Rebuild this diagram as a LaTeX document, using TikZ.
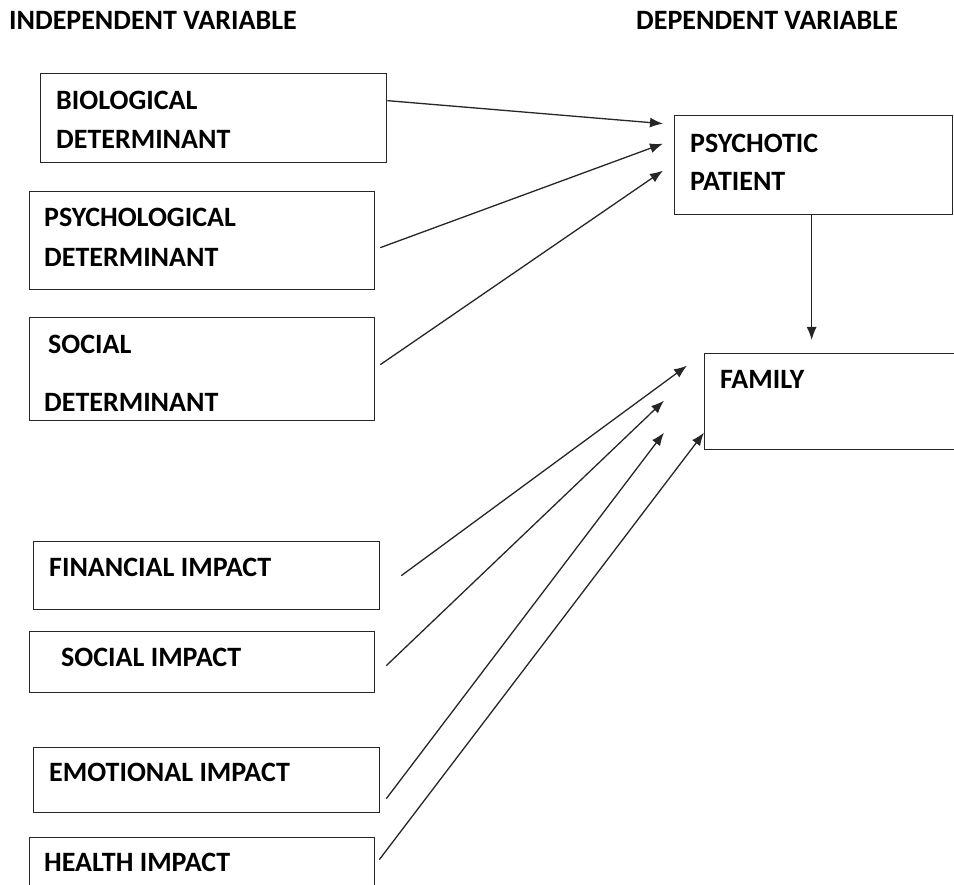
\documentclass[tikz,border=0pt]{standalone}
\usepackage{fontspec}
\setmainfont{Carlito}
\usetikzlibrary{arrows.meta,calc}
\begin{document}
\begin{tikzpicture}[x=1pt,y=-1pt,
  box/.style={draw=black!85,line width=1.3pt,inner sep=0pt,anchor=north west},
  txt/.style={inner sep=0pt,anchor=west,font=\fontsize{28}{34}\selectfont\bfseries},
  hdr/.style={inner sep=0pt,anchor=west,font=\fontsize{28}{34}\selectfont\bfseries},
  arr/.style={draw=black!85,line width=1.3pt,-{Latex[length=13pt,width=10pt]}}]
\useasboundingbox (0,0) rectangle (954,885);
\begin{scope}
\clip (0,0) rectangle (954,885);
% headers
\node[hdr] (indep) at (9,20) {INDEPENDENT VARIABLE};
\node[hdr] (dep) at (636,20) {DEPENDENT VARIABLE};
% left boxes
\node[box,minimum width=346pt,minimum height=89pt] (bio) at (40,73) {};
\node[box,minimum width=345pt,minimum height=98pt] (psy) at (29,191) {};
\node[box,minimum width=345pt,minimum height=103pt] (soc) at (29,317) {};
\node[box,minimum width=346pt,minimum height=68pt] (fin) at (33,541) {};
\node[box,minimum width=345pt,minimum height=61pt] (sim) at (29,631) {};
\node[box,minimum width=346pt,minimum height=65pt] (emo) at (33,747) {};
\node[box,minimum width=345pt,minimum height=63pt] (hea) at (29,837) {};
% right boxes
\node[box,minimum width=278pt,minimum height=99pt] (pat) at (674,115) {};
\node[box,minimum width=276pt,minimum height=96pt] (fam) at (704,353) {};
% texts
\node[txt] (bio1) at (56,100) {BIOLOGICAL};
\node[txt] (bio2) at (56,139) {DETERMINANT};
\node[txt] (psy1) at (44,217) {PSYCHOLOGICAL};
\node[txt] (psy2) at (44,257) {DETERMINANT};
\node[txt] (soc1) at (48,344) {SOCIAL};
\node[txt] (soc2) at (44,402) {DETERMINANT};
\node[txt] (fin1) at (49,567) {FINANCIAL IMPACT};
\node[txt] (sim1) at (61,657) {SOCIAL IMPACT};
\node[txt] (emo1) at (49,772) {EMOTIONAL IMPACT};
\node[txt] (hea1) at (44,862) {HEALTH IMPACT};
\node[txt] (pat1) at (690,143) {PSYCHOTIC};
\node[txt] (pat2) at (690,181) {PATIENT};
\node[txt] (fam1) at (720,379) {FAMILY};
% connectors
\draw[arr] ($(bio.east)+(0,-17.5)$) -- ($(pat.west)+(-11,-41.5)$);
\draw[arr] ($(psy.east)+(5,7)$) -- ($(pat.west)+(-11,-21.5)$);
\draw[arr] ($(soc.east)+(5,-4.5)$) -- ($(pat.west)+(-11,5.5)$);
\draw[arr] ($(pat.south)+(-2,0)$) -- ($(pat.south |- fam.north)+(-2,-13)$);
\draw[arr] ($(fin.east)+(21,0)$) -- ($(fam.west)+(-17,-36)$);
\draw[arr] ($(sim.east)+(11,3.5)$) -- ($(fam.west)+(-40,-1)$);
\draw[arr] ($(emo.east)+(6,18.5)$) -- ($(fam.west)+(-40,31)$);
\draw[arr] ($(hea.east)+(4,-9.5)$) -- ($(fam.west)+(0,31)$);
\end{scope}
\end{tikzpicture}
\end{document}
